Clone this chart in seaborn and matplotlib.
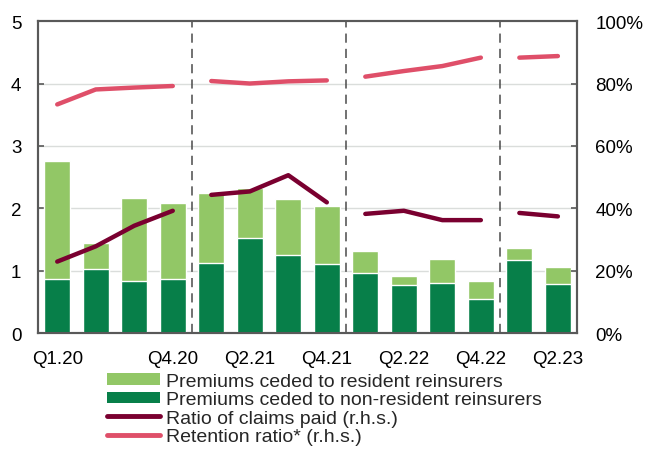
import matplotlib
matplotlib.use("Agg")
import matplotlib.pyplot as plt
import seaborn as sns
import pandas as pd
import numpy as np
from matplotlib.patches import Patch
from matplotlib.lines import Line2D

quarters = ["Q1.20", "Q2.20", "Q3.20", "Q4.20", "Q1.21", "Q2.21", "Q3.21", "Q4.21",
            "Q1.22", "Q2.22", "Q3.22", "Q4.22", "Q1.23", "Q2.23"]
years = ["2020"] * 4 + ["2021"] * 4 + ["2022"] * 4 + ["2023"] * 2
total_ceded = [2.75, 1.45, 2.16, 2.08, 2.25, 2.33, 2.15, 2.03, 1.31, 0.91, 1.19, 0.83, 1.37, 1.06]
non_resident = [0.87, 1.03, 0.84, 0.87, 1.12, 1.53, 1.25, 1.10, 0.96, 0.77, 0.80, 0.54, 1.17, 0.79]
claims_ratio = [22.9, 27.8, 34.4, 39.2, 44.3, 45.4, 50.6, 41.9, 38.2, 39.2, 36.2, 36.2, 38.5, 37.4]
retention_ratio = [73.3, 78.1, 78.7, 79.2, 80.8, 80.0, 80.7, 81.0, 82.2, 84.0, 85.6, 88.3, 88.3, 88.8]
shown_labels = ["Q1.20", "Q4.20", "Q2.21", "Q4.21", "Q2.22", "Q4.22", "Q2.23"]

df = pd.DataFrame({"quarter": quarters, "year": years, "total": total_ceded,
                   "nonres": non_resident, "claims": claims_ratio,
                   "retention": retention_ratio})
df["pos"] = np.arange(len(df))

sns.set_theme(style="white")
plt.rcParams["font.family"] = ["Liberation Sans", "DejaVu Sans"]

light_green = "#92C766"
dark_green = "#077F49"
claims_col = "#7A0030"
ret_col = "#DF4F69"
spine_col = "#595959"

fig = plt.figure(figsize=(6.47, 4.52), dpi=100)
ax = fig.add_axes([0.0587, 0.261, 0.8333, 0.690])

for y in [1, 2, 3, 4]:
    ax.axhline(y, color="#DADDDB", lw=1.0, zorder=0)
sns.barplot(data=df, x="quarter", y="total", color=light_green, width=0.68,
            saturation=1, ax=ax, zorder=2)
sns.barplot(data=df, x="quarter", y="nonres", color=dark_green, width=0.68,
            saturation=1, ax=ax, zorder=3)
for b in [3.5, 7.5, 11.5]:
    ax.axvline(b, color="#4A4A4A", lw=1.1, ls=(0, (6, 4)), zorder=1)

ax.set_xlim(-0.5, 13.5)
ax.set_ylim(0, 5)
ax.set_yticks([0, 1, 2, 3, 4, 5])
ax.set_yticklabels(["0", "1", "2", "3", "4", "5"])
ax.set_xticks([quarters.index(q) for q in shown_labels])
ax.set_xticklabels(shown_labels)
ax.set_xticks(np.arange(0.5, 13.5, 1.0), minor=True)
ax.tick_params(axis="x", which="major", length=0, labelsize=13.5, pad=12, colors="black")
ax.tick_params(axis="x", which="minor", direction="in", length=4, width=1.2, color=spine_col)
ax.tick_params(axis="y", direction="in", length=4, width=1.2, color=spine_col,
               labelsize=13.5, pad=12, labelcolor="black")
ax.set_xlabel("")
ax.set_ylabel("")
for s in ax.spines.values():
    s.set_color(spine_col)
    s.set_linewidth(1.5)
    s.set_visible(True)

ax2 = ax.twinx()
for yr in ["2020", "2021", "2022", "2023"]:
    seg = df[df["year"] == yr]
    sns.lineplot(x=seg["pos"], y=seg["retention"], color=ret_col, lw=3.2, ax=ax2,
                 solid_capstyle="round", zorder=5)
    sns.lineplot(x=seg["pos"], y=seg["claims"], color=claims_col, lw=3.2, ax=ax2,
                 solid_capstyle="round", zorder=5)
ax2.set_ylim(0, 100)
ax2.set_xlim(-0.5, 13.5)
ax2.set_yticks([0, 20, 40, 60, 80, 100])
ax2.set_yticklabels(["0%", "20%", "40%", "60%", "80%", "100%"])
ax2.tick_params(axis="y", direction="in", length=4, width=1.2, color=spine_col,
                labelsize=13.5, pad=13, labelcolor="black")
ax2.set_ylabel("")
ax2.set_xlabel("")
for s in ax2.spines.values():
    s.set_color(spine_col)
    s.set_linewidth(1.5)

handles = [
    Patch(facecolor=light_green, edgecolor="none"),
    Patch(facecolor=dark_green, edgecolor="none"),
    Line2D([0], [0], color=claims_col, lw=3.5, solid_capstyle="round"),
    Line2D([0], [0], color=ret_col, lw=3.5, solid_capstyle="round"),
]
labels = ["Premiums ceded to resident reinsurers",
          "Premiums ceded to non-resident reinsurers",
          "Ratio of claims paid (r.h.s.)",
          "Retention ratio* (r.h.s.)"]
fig.legend(handles, labels, loc="upper left", bbox_to_anchor=(0.166, 0.173),
           frameon=False, fontsize=14, handlelength=2.7, handleheight=0.57,
           handletextpad=0.3, labelspacing=0.08, borderpad=0, borderaxespad=0)

fig.savefig("out.png", dpi=100)
